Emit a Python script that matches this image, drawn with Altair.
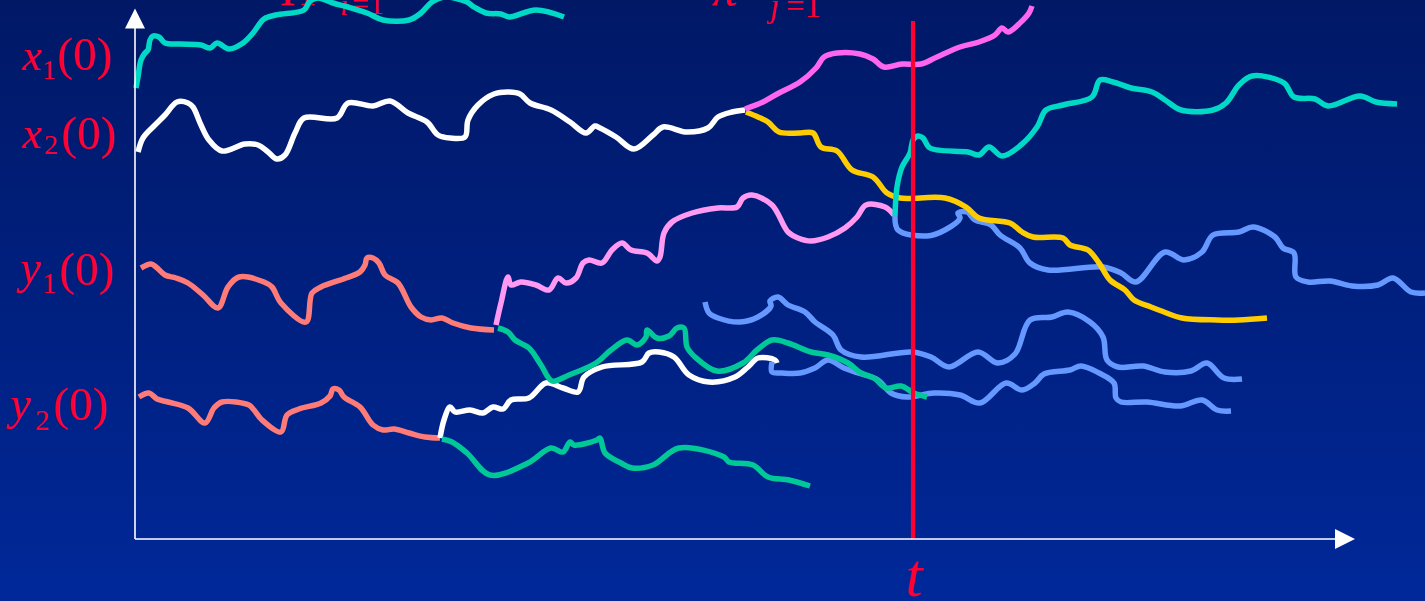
import altair as alt
import pandas as pd

W, H = 1425, 601
X0, Y0 = 135, 539  # picture position of the axes' origin (readings are relative to it)

# ---- path readings (x, y) ----
cyan_a = [(136,88),(138,77),(141,60),(145,53),(148,50),(150,40),(153,36),(159,37),(165,43),(180,44),
          (201,45),(210,48),(217,43),(229,49),(243,43),(253,33),(264,19),(276,15),(304,10),(310,1),
          (318,-2),(333,3),(348,7),(367,13),(383,20),(409,20),(421,13),(432,2),(445,-3),(467,2),
          (474,7),(486,13),(501,14),(509,17),(536,10),(564,17)]
white_a = [(138,152),(143,138),(153,127),(165,115),(177,102),(188,103),(193,107),(201,125),(209,140),
           (222,151),(245,144),(258,145),(268,152),(277,159),(285,155),(295,133),(304,118),(337,118),
           (348,103),(373,106),(390,101),(408,113),(427,122),(438,135),(450,138),(465,137),(468,120),
           (478,105),(494,94),(509,92),(520,94),(530,103),(551,110),(570,122),(586,133),(595,126),
           (600,128),(616,137),(634,149),(653,135),(663,127),(687,132),(708,128),(718,117),(732,112),
           (745,110)]
magenta = [(745,109),(763,102),(779,93),(800,82),(816,68),(824,57),(837,53),(860,54),(873,59),(884,67),
           (902,64),(921,64),(937,57),(960,47),(979,42),(995,35),(1002,28),(1008,32),(1021,22),
           (1029,13),(1032,6)]
yellow = [(746,112),(758,117),(768,122),(779,132),(800,133),(813,133),(821,147),(837,151),(852,170),
          (873,177),(887,193),(900,198),(945,198),(966,207),(979,218),(1010,223),(1022,232),(1033,237),
          (1063,238),(1070,245),(1088,250),(1099,263),(1110,280),(1125,290),(1134,300),(1151,307),
          (1164,312),(1182,318),(1217,320),(1239,320),(1267,318)]
cyan_b = [(895,216),(897,187),(902,167),(910,153),(913,140),(918,136),(923,138),(930,148),(968,152),
          (979,155),(989,147),(1002,156),(1021,145),(1037,127),(1046,110),(1063,105),(1092,97),
          (1100,80),(1113,82),(1131,88),(1152,92),(1165,100),(1181,110),(1213,110),(1226,103),
          (1239,85),(1252,76),(1284,83),(1294,97),(1315,99),(1328,106),(1360,96),(1376,102),(1397,104)]
blue_a = [(895,216),(898,230),(927,236),(945,230),(960,218),(958,213),(967,212),(975,220),(991,225),
          (1000,235),(1020,248),(1030,263),(1048,270),(1103,267),(1121,273),(1136,282),(1165,252),
          (1184,260),(1202,252),(1213,235),(1239,232),(1253,227),(1275,237),(1283,248),(1294,253),
          (1296,277),(1308,282),(1330,281),(1352,286),(1378,285),(1393,278),(1411,292),(1425,293)]
salmon_a = [(141,268),(151,264),(156,267),(165,275),(176,278),(188,283),(203,295),(218,308),(228,287),
            (239,277),(264,282),(272,287),(281,303),(306,322),(312,293),(321,287),(346,278),(360,272),
            (365,265),(367,258),(373,258),(379,263),(385,275),(398,283),(411,307),(421,317),(431,320),
            (442,318),(453,323),(471,328),(494,330)]
salmon_b = [(139,397),(149,393),(157,399),(168,402),(188,408),(205,423),(214,408),(222,402),(249,405),
            (254,410),(262,420),(281,432),(287,415),(299,409),(321,403),(330,396),(333,389),(339,390),
            (344,397),(360,407),(373,425),(383,430),(394,429),(409,433),(425,437),(440,438)]
pink = [(496,325),(501,303),(508,277),(511,285),(521,282),(536,285),(549,290),(558,278),(566,283),
        (576,278),(583,263),(589,260),(602,263),(612,250),(622,243),(631,250),(647,253),(657,261),
        (660,257),(664,233),(672,222),(692,213),(718,208),(737,207),(743,198),(752,195),(772,205),
        (788,232),(798,238),(811,241),(828,237),(845,228),(857,217),(866,205),(885,207),(894,215)]
green_a = [(498,328),(508,332),(515,340),(529,348),(541,365),(552,381),(569,375),(596,363),(611,350),
           (627,340),(637,345),(646,337),(647,330),(657,338),(669,336),(677,328),(684,328),(687,347),
           (695,357),(717,371),(743,363),(757,350),(772,340),(788,343),(811,352),(828,355),(848,363),
           (861,373),(874,378),(886,388),(901,386),(914,393),(927,397)]
white_b = [(440,438),(444,420),(450,407),(455,412),(470,410),(483,413),(493,407),(503,409),(511,400),
           (529,398),(546,383),(563,388),(578,392),(584,377),(602,367),(642,362),(649,353),
           (659,352),(674,357),(689,375),(709,382),(735,377),(748,367),(758,358),(775,360),(777,363)]
blue_b = [(705,302),(709,313),(718,318),(740,322),(758,317),(771,306),(770,301),(778,297),(788,305),
          (805,312),(815,322),(833,335),(841,350),(861,357),(912,352),(931,357),(949,367),(978,352),
          (998,363),(1015,354),(1030,320),(1052,317),(1068,312),(1090,322),(1103,337),(1107,360),
          (1118,367),(1143,366),(1165,372),(1191,371),(1207,363),(1224,378),(1242,379)]
blue_c = [(772,362),(772,372),(782,373),(800,373),(815,368),(828,360),(844,368),(858,373),(878,380),
          (891,393),(907,397),(934,393),(960,395),(980,403),(1006,383),(1022,390),(1035,383),(1044,374),
          (1070,370),(1081,366),(1099,373),(1114,383),(1116,398),(1121,402),(1147,402),(1180,406),
          (1202,400),(1217,410),(1231,411)]
green_b = [(442,439),(452,442),(467,453),(490,475),(528,463),(551,448),(563,452),(570,442),(574,445),
           (597,440),(600,438),(605,453),(621,463),(632,468),(653,465),(679,448),(724,457),(729,462),
           (753,465),(768,477),(789,480),(810,486)]

curves = [
    ("salmon_a", salmon_a, "#ff7b78"),
    ("salmon_b", salmon_b, "#ff7b78"),
    ("white_a", white_a, "#ffffff"),
    ("white_b", white_b, "#ffffff"),
    ("blue_b", blue_b, "#6699ff"),
    ("blue_c", blue_c, "#6699ff"),
    ("green_a", green_a, "#00c896"),
    ("green_b", green_b, "#00c896"),
    ("pink", pink, "#ff99f2"),
    ("blue_a", blue_a, "#6699ff"),
    ("yellow", yellow, "#ffcc00"),
    ("cyan_b", cyan_b, "#00d9c6"),
    ("magenta", magenta, "#ff66f0"),
    ("cyan_a", cyan_a, "#00d9c6"),
]

rows = []
for k, (name, pts, col) in enumerate(curves):
    for i, (x, y) in enumerate(pts):
        rows.append({"series": name, "k": k, "i": i, "t": x - X0, "v": Y0 - y})
df = pd.DataFrame(rows)
names = [c[0] for c in curves]
colors = [c[2] for c in curves]

xs = alt.Scale(domain=[-X0, W - X0], range=[0, W], nice=False, zero=False)
ys = alt.Scale(domain=[Y0 - H, Y0], range=[H, 0], nice=False, zero=False)

RED = "#ff0033"
FONT = "Liberation Serif"

bg = alt.Chart(pd.DataFrame({"a": [0]})).mark_rect(
    fill=alt.Gradient(gradient="linear",
                      stops=[alt.GradientStop(color="#001866", offset=0),
                             alt.GradientStop(color="#002899", offset=1)],
                      x1=0, x2=0, y1=0, y2=1)
).encode(x=alt.value(0), x2=alt.value(W), y=alt.value(0), y2=alt.value(H))

lines = alt.Chart(df).mark_line(strokeWidth=5.5, interpolate="catmull-rom",
                                strokeCap="butt", strokeJoin="round").encode(
    x=alt.X("t:Q", scale=xs, axis=None),
    y=alt.Y("v:Q", scale=ys, axis=None),
    color=alt.Color("series:N", scale=alt.Scale(domain=names, range=colors), legend=None),
    detail="series:N",
    order="i:Q",
)

# axes (rules) and the marked time t
axis_df = pd.DataFrame({
    "t": [0, 0], "v": [0, 0],
    "t2": [0, 1205], "v2": [513, 0],
})
axes = alt.Chart(axis_df).mark_rule(color="white", strokeWidth=1.6).encode(
    x=alt.X("t:Q", scale=xs, axis=None), x2="t2:Q",
    y=alt.Y("v:Q", scale=ys, axis=None), y2="v2:Q")

mark_t = [913 - X0]
red_df = pd.DataFrame({"t": mark_t, "v": [0], "v2": [Y0 - 21]})
red = alt.Chart(red_df).mark_rule(color=RED, strokeWidth=4.2).encode(
    x=alt.X("t:Q", scale=xs, axis=None),
    y=alt.Y("v:Q", scale=ys, axis=None), y2="v2:Q")

up_df = pd.DataFrame({"t": [0], "v": [Y0 - 18.5]})
right_df = pd.DataFrame({"t": [1345 - X0], "v": [0]})
arrow_up = alt.Chart(up_df).mark_point(shape="M-1,1L0,-1L1,1Z", filled=True, size=400,
                                       color="white", opacity=1, strokeWidth=0).encode(
    x=alt.X("t:Q", scale=xs, axis=None), y=alt.Y("v:Q", scale=ys, axis=None))
arrow_right = alt.Chart(right_df).mark_point(shape="M-1,-1L1,0L-1,1Z", filled=True, size=400,
                                             color="white", opacity=1, strokeWidth=0).encode(
    x=alt.X("t:Q", scale=xs, axis=None), y=alt.Y("v:Q", scale=ys, axis=None))

# labels: (text, x, baseline y, font size)
italic_labels = [("x", 22, 70, 44), ("x", 22, 148, 44), ("y", 20, 283, 46), ("y", 10, 419, 46),
                 ("i", 340, 15, 30), ("j", 770, 17, 33), ("π", 712, 5, 52)]
roman_labels = [("1", 42, 79, 28), ("(0)", 57, 70, 47),
                ("2", 44, 154, 28), ("(0)", 61, 149, 47),
                ("1", 42, 293, 29), ("(0)", 59, 285, 47),
                ("2", 35, 430, 29), ("(0)", 53, 420, 47),
                ("=1", 352, 14, 30), ("=1", 786, 17, 33), ("Π", 280, 5, 50)]
t_label = [("t", 914, 596, 62)]


def label_df(items):
    return pd.DataFrame({"text": [a[0] for a in items], "t": [a[1] - X0 for a in items],
                         "v": [Y0 - a[2] for a in items], "size": [a[3] for a in items]})


def text_layer(items, style, align):
    return alt.Chart(label_df(items)).mark_text(
        font=FONT, fontStyle=style, align=align, baseline="alphabetic", color=RED
    ).encode(x=alt.X("t:Q", scale=xs, axis=None), y=alt.Y("v:Q", scale=ys, axis=None),
             text="text:N", size=alt.Size("size:Q", scale=None, legend=None))


txt_i = text_layer(italic_labels, "italic", "left")
txt_r = text_layer(roman_labels, "normal", "left")
txt_t = text_layer(t_label, "italic", "center")

chart = alt.layer(bg, txt_i, txt_r, lines, red, axes, arrow_up, arrow_right, txt_t).properties(
    width=W, height=H, padding=0, autosize="none", background="#001866"
).configure_view(stroke=None)

chart.save("out.html", embed_options={"renderer": "svg", "actions": False})
